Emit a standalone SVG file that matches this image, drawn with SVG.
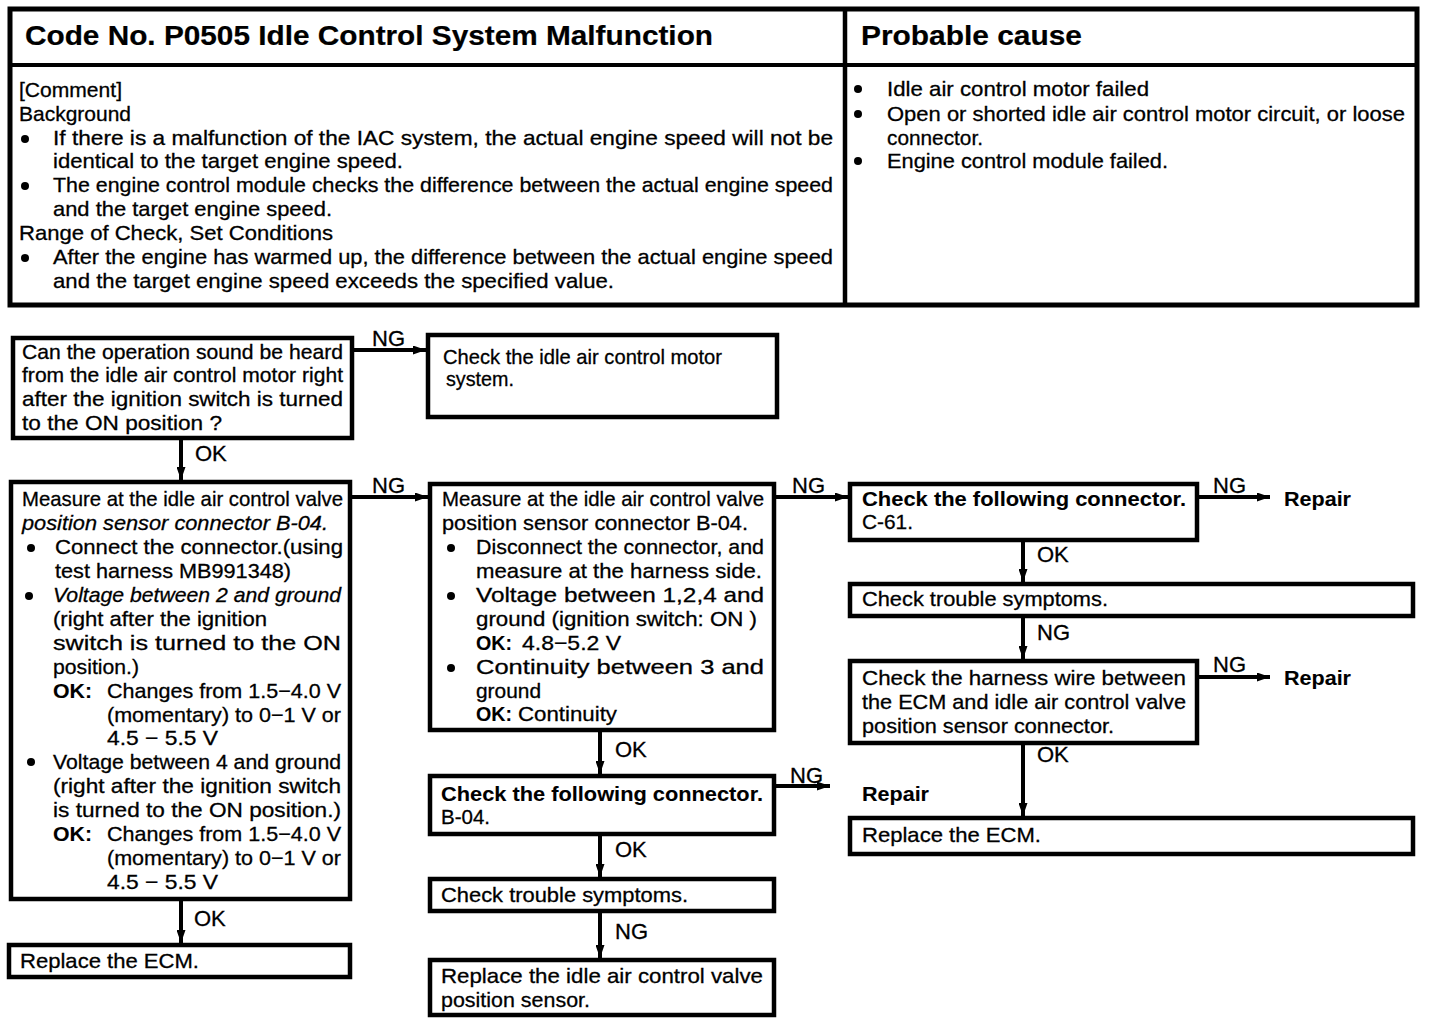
<svg xmlns="http://www.w3.org/2000/svg" width="1440" height="1026" viewBox="0 0 1440 1026">
<style>
text{font-family:"Liberation Sans",Arial,Helvetica,sans-serif;font-size:21px;fill:#000;stroke:#000;stroke-width:0.3}
.h{font-size:27px;font-weight:bold;stroke-width:0.2}
.b{font-weight:bold;stroke-width:0.1}
.i{font-style:italic}
.l{font-size:22px}
.box{fill:#fff;stroke:#000;stroke-width:4.5}
.cn{stroke:#000;stroke-width:4;fill:none;marker-end:url(#ah)}
</style>
<defs>
<marker id="ah" markerUnits="userSpaceOnUse" markerWidth="13" markerHeight="9" refX="13" refY="4.5" orient="auto">
<path d="M0,0 L13,4.5 L0,9 Z" fill="#000"/>
</marker>
</defs>
<rect width="1440" height="1026" fill="#fff"/>

<g id="header">
<rect x="10" y="9" width="1407" height="296" fill="#fff" stroke="#000" stroke-width="5"/>
<line x1="10" y1="65" x2="1417" y2="65" stroke="#000" stroke-width="4"/>
<line x1="845" y1="9" x2="845" y2="305" stroke="#000" stroke-width="4.5"/>
<text class="h" x="25" y="45" textLength="688" lengthAdjust="spacingAndGlyphs">Code No. P0505 Idle Control System Malfunction</text>
<text class="h" x="861" y="45" textLength="221" lengthAdjust="spacingAndGlyphs">Probable cause</text>
<text x="19" y="97" textLength="103" lengthAdjust="spacingAndGlyphs">[Comment]</text>
<text x="19" y="121" textLength="112" lengthAdjust="spacingAndGlyphs">Background</text>
<circle cx="25" cy="139" r="4"/>
<text x="53" y="145" textLength="780" lengthAdjust="spacingAndGlyphs">If there is a malfunction of the IAC system, the actual engine speed will not be</text>
<text x="53" y="168" textLength="350" lengthAdjust="spacingAndGlyphs">identical to the target engine speed.</text>
<circle cx="25" cy="186" r="4"/>
<text x="53" y="192" textLength="780" lengthAdjust="spacingAndGlyphs">The engine control module checks the difference between the actual engine speed</text>
<text x="53" y="216" textLength="279" lengthAdjust="spacingAndGlyphs">and the target engine speed.</text>
<text x="19" y="240" textLength="314" lengthAdjust="spacingAndGlyphs">Range of Check, Set Conditions</text>
<circle cx="25" cy="258" r="4"/>
<text x="53" y="264" textLength="780" lengthAdjust="spacingAndGlyphs">After the engine has warmed up, the difference between the actual engine speed</text>
<text x="53" y="288" textLength="561" lengthAdjust="spacingAndGlyphs">and the target engine speed exceeds the specified value.</text>
<circle cx="858" cy="89" r="4"/>
<text x="887" y="96" textLength="262" lengthAdjust="spacingAndGlyphs">Idle air control motor failed</text>
<circle cx="858" cy="114" r="4"/>
<text x="887" y="121" textLength="518" lengthAdjust="spacingAndGlyphs">Open or shorted idle air control motor circuit, or loose</text>
<text x="887" y="145" textLength="96" lengthAdjust="spacingAndGlyphs">connector.</text>
<circle cx="858" cy="161" r="4"/>
<text x="887" y="168" textLength="281" lengthAdjust="spacingAndGlyphs">Engine control module failed.</text>
</g>

<g id="connectors">
<line class="cn" x1="352" y1="350" x2="426" y2="350"/>
<line class="cn" x1="181" y1="438" x2="181" y2="480"/>
<line class="cn" x1="350" y1="497" x2="428" y2="497"/>
<line class="cn" x1="181" y1="900" x2="181" y2="943"/>
<line class="cn" x1="774" y1="497" x2="848" y2="497"/>
<line class="cn" x1="600" y1="730" x2="600" y2="774"/>
<line class="cn" x1="774" y1="786" x2="830" y2="786"/>
<line class="cn" x1="600" y1="834" x2="600" y2="877"/>
<line class="cn" x1="600" y1="911" x2="600" y2="958"/>
<line class="cn" x1="1197" y1="497" x2="1270" y2="497"/>
<line class="cn" x1="1023" y1="540" x2="1023" y2="582"/>
<line class="cn" x1="1023" y1="616" x2="1023" y2="659"/>
<line class="cn" x1="1197" y1="677" x2="1270" y2="677"/>
<line class="cn" x1="1023" y1="743" x2="1023" y2="816"/>
<text class="l" x="372" y="346">NG</text>
<text class="l" x="195" y="461">OK</text>
<text class="l" x="372" y="493">NG</text>
<text class="l" x="194" y="926">OK</text>
<text class="l" x="792" y="493">NG</text>
<text class="l" x="615" y="757">OK</text>
<text class="l" x="790" y="783">NG</text>
<text class="l" x="615" y="857">OK</text>
<text class="l" x="615" y="939">NG</text>
<text class="l" x="1213" y="493">NG</text>
<text class="l" x="1037" y="562">OK</text>
<text class="l" x="1037" y="640">NG</text>
<text class="l" x="1213" y="672">NG</text>
<text class="l" x="1037" y="762">OK</text>
<text class="b" x="1284" y="506" textLength="67" lengthAdjust="spacingAndGlyphs">Repair</text>
<text class="b" x="862" y="801" textLength="67" lengthAdjust="spacingAndGlyphs">Repair</text>
<text class="b" x="1284" y="685" textLength="67" lengthAdjust="spacingAndGlyphs">Repair</text>
</g>

<g id="nodeA">
<rect class="box" x="13" y="338" width="339" height="100"/>
<text x="22" y="359" textLength="321" lengthAdjust="spacingAndGlyphs">Can the operation sound be heard</text>
<text x="22" y="382" textLength="321" lengthAdjust="spacingAndGlyphs">from the idle air control motor right</text>
<text x="22" y="406" textLength="321" lengthAdjust="spacingAndGlyphs">after the ignition switch is turned</text>
<text x="22" y="430" textLength="200" lengthAdjust="spacingAndGlyphs">to the ON position ?</text>
</g>

<g id="nodeB">
<rect class="box" x="428" y="335" width="349" height="82"/>
<text x="443" y="364" textLength="279" lengthAdjust="spacingAndGlyphs">Check the idle air control motor</text>
<text x="446" y="386" textLength="68" lengthAdjust="spacingAndGlyphs">system.</text>
</g>

<g id="nodeC">
<rect class="box" x="11" y="482" width="339" height="417"/>
<text x="22" y="506" textLength="321" lengthAdjust="spacingAndGlyphs">Measure at the idle air control valve</text>
<text class="i" x="22" y="530" textLength="306" lengthAdjust="spacingAndGlyphs">position sensor connector B-04.</text>
<circle cx="31" cy="548" r="4"/>
<text x="55" y="554" textLength="288" lengthAdjust="spacingAndGlyphs">Connect the connector.(using</text>
<text x="55" y="578" textLength="236" lengthAdjust="spacingAndGlyphs">test harness MB991348)</text>
<circle cx="29" cy="596" r="4"/>
<text class="i" x="53" y="602" textLength="288" lengthAdjust="spacingAndGlyphs">Voltage between 2 and ground</text>
<text x="53" y="626" textLength="214" lengthAdjust="spacingAndGlyphs">(right after the ignition</text>
<text x="53" y="650" textLength="288" lengthAdjust="spacingAndGlyphs">switch is turned to the ON</text>
<text x="53" y="674" textLength="86" lengthAdjust="spacingAndGlyphs">position.)</text>
<text class="b" x="53" y="698" textLength="39" lengthAdjust="spacingAndGlyphs">OK:</text>
<text x="107" y="698" textLength="234" lengthAdjust="spacingAndGlyphs">Changes from 1.5−4.0 V</text>
<text x="107" y="722" textLength="234" lengthAdjust="spacingAndGlyphs">(momentary) to 0−1 V or</text>
<text x="107" y="745" textLength="111" lengthAdjust="spacingAndGlyphs">4.5 − 5.5 V</text>
<circle cx="31" cy="762" r="4"/>
<text x="53" y="769" textLength="288" lengthAdjust="spacingAndGlyphs">Voltage between 4 and ground</text>
<text x="53" y="793" textLength="288" lengthAdjust="spacingAndGlyphs">(right after the ignition switch</text>
<text x="53" y="817" textLength="288" lengthAdjust="spacingAndGlyphs">is turned to the ON position.)</text>
<text class="b" x="53" y="841" textLength="39" lengthAdjust="spacingAndGlyphs">OK:</text>
<text x="107" y="841" textLength="234" lengthAdjust="spacingAndGlyphs">Changes from 1.5−4.0 V</text>
<text x="107" y="865" textLength="234" lengthAdjust="spacingAndGlyphs">(momentary) to 0−1 V or</text>
<text x="107" y="889" textLength="111" lengthAdjust="spacingAndGlyphs">4.5 − 5.5 V</text>
</g>

<g id="nodeD">
<rect class="box" x="9" y="945" width="341" height="32"/>
<text x="20" y="968" textLength="179" lengthAdjust="spacingAndGlyphs">Replace the ECM.</text>
</g>

<g id="nodeE">
<rect class="box" x="430" y="484" width="344" height="246"/>
<text x="442" y="506" textLength="322" lengthAdjust="spacingAndGlyphs">Measure at the idle air control valve</text>
<text x="442" y="530" textLength="306" lengthAdjust="spacingAndGlyphs">position sensor connector B-04.</text>
<circle cx="451" cy="548" r="4"/>
<text x="476" y="554" textLength="288" lengthAdjust="spacingAndGlyphs">Disconnect the connector, and</text>
<text x="476" y="578" textLength="286" lengthAdjust="spacingAndGlyphs">measure at the harness side.</text>
<circle cx="451" cy="596" r="4"/>
<text x="476" y="602" textLength="288" lengthAdjust="spacingAndGlyphs">Voltage between 1,2,4 and</text>
<text x="476" y="626" textLength="281" lengthAdjust="spacingAndGlyphs">ground (ignition switch: ON )</text>
<text class="b" x="476" y="650" textLength="36" lengthAdjust="spacingAndGlyphs">OK:</text>
<text x="522" y="650" textLength="99" lengthAdjust="spacingAndGlyphs">4.8−5.2 V</text>
<circle cx="451" cy="668" r="4"/>
<text x="476" y="674" textLength="288" lengthAdjust="spacingAndGlyphs">Continuity between 3 and</text>
<text x="476" y="698" textLength="65" lengthAdjust="spacingAndGlyphs">ground</text>
<text class="b" x="476" y="721" textLength="36" lengthAdjust="spacingAndGlyphs">OK:</text>
<text x="518" y="721" textLength="99" lengthAdjust="spacingAndGlyphs">Continuity</text>
</g>

<g id="nodeF">
<rect class="box" x="430" y="776" width="344" height="58"/>
<text class="b" x="441" y="801" textLength="322" lengthAdjust="spacingAndGlyphs">Check the following connector.</text>
<text x="441" y="824" textLength="49" lengthAdjust="spacingAndGlyphs">B-04.</text>
</g>

<g id="nodeG">
<rect class="box" x="430" y="879" width="344" height="32"/>
<text x="441" y="902" textLength="247" lengthAdjust="spacingAndGlyphs">Check trouble symptoms.</text>
</g>

<g id="nodeH">
<rect class="box" x="430" y="960" width="344" height="55"/>
<text x="441" y="983" textLength="322" lengthAdjust="spacingAndGlyphs">Replace the idle air control valve</text>
<text x="441" y="1007" textLength="149" lengthAdjust="spacingAndGlyphs">position sensor.</text>
</g>

<g id="nodeI">
<rect class="box" x="850" y="484" width="347" height="56"/>
<text class="b" x="862" y="506" textLength="324" lengthAdjust="spacingAndGlyphs">Check the following connector.</text>
<text x="862" y="529" textLength="51" lengthAdjust="spacingAndGlyphs">C-61.</text>
</g>

<g id="nodeJ">
<rect class="box" x="850" y="584" width="563" height="32"/>
<text x="862" y="606" textLength="246" lengthAdjust="spacingAndGlyphs">Check trouble symptoms.</text>
</g>

<g id="nodeK">
<rect class="box" x="850" y="661" width="347" height="82"/>
<text x="862" y="685" textLength="324" lengthAdjust="spacingAndGlyphs">Check the harness wire between</text>
<text x="862" y="709" textLength="324" lengthAdjust="spacingAndGlyphs">the ECM and idle air control valve</text>
<text x="862" y="733" textLength="252" lengthAdjust="spacingAndGlyphs">position sensor connector.</text>
</g>

<g id="nodeL">
<rect class="box" x="850" y="818" width="563" height="36"/>
<text x="862" y="842" textLength="179" lengthAdjust="spacingAndGlyphs">Replace the ECM.</text>
</g>
</svg>
